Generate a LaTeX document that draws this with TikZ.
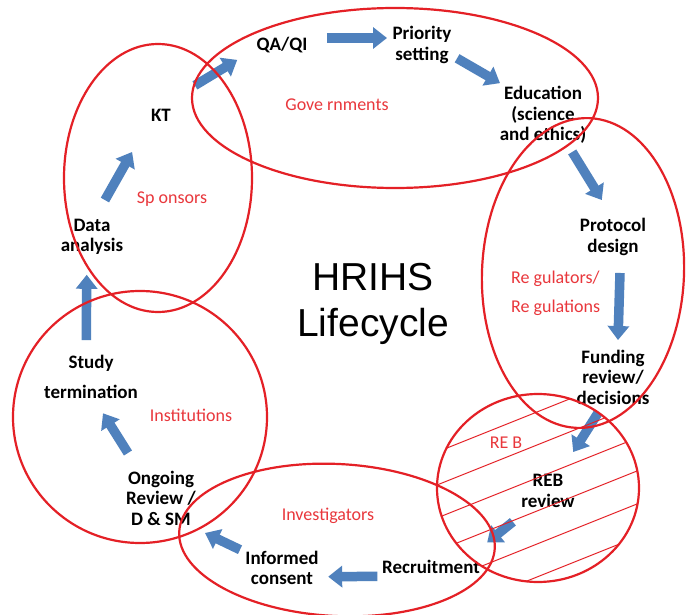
\documentclass[tikz,border=0pt]{standalone}
\usepackage{fontspec}
\setmainfont{Carlito}
\newfontfamily\titlefont{Liberation Sans}
\usetikzlibrary{arrows.meta,calc,backgrounds}
\definecolor{ringred}{RGB}{228,32,38}
\definecolor{labred}{RGB}{233,55,60}
\definecolor{arrblue}{RGB}{79,129,189}
\tikzset{
  stage/.style={font=\bfseries\fontsize{19}{20.5}\selectfont, align=center, inner sep=0pt},
  actor/.style={font=\fontsize{18}{20}\selectfont, text=labred, inner sep=0pt, align=left},
  ring/.style={draw=ringred, line width=2.2pt},
  hatchline/.style={draw=ringred, line width=1pt},
  flow/.style={draw=arrblue, line width=9.5pt, -{Triangle[width=21pt,length=14pt]}},
}
\begin{document}
\begin{tikzpicture}[x=1pt,y=-1pt]
\useasboundingbox (0,0) rectangle (689,615);

% stages
\node[stage] (qa)  at (282,45)  {QA/QI};
\node[stage] (pr)  at (422,45)  {Priority\\setting};
\node[stage] (ed)  at (543,115) {Education\\(science\\and ethics)};
\node[stage] (pd)  at (613,237) {Protocol\\design};
\node[stage] (fr)  at (613,377) {Funding\\review/\\decisions};
\node[stage] (reb) at (548,491) {REB\\review};
\node[stage] (rec) at (431,567) {Recruitment};
\node[stage] (ic)  at (282,568) {Informed\\consent};
\node[stage] (og)  at (161,498) {Ongoing\\Review /\\D \& SM};
\node[stage] (st)  at (91,377)  {Study\\[9.5pt]termination};
\node[stage] (da)  at (92,237)  {Data\\analysis};
\node[stage] (kt)  at (161,115) {KT};

% title
\node[font=\titlefont\fontsize{39}{46}\selectfont, align=center, inner sep=0pt] (title) at (373,304) {HRIHS\\Lifecycle};

% actors
\node[actor] (gov)  at (337,105) {Gove rnments};
\node[actor] (spo)  at (172,199) {Sp onsors};
\node[actor, anchor=west] (regu) at (511,293) {Re gulators/\\[9pt]Re gulations};
\node[actor] (rebl) at (506,443) {RE B};
\node[actor] (inv)  at (328,516) {Investigators};
\node[actor] (ins)  at (191,415) {Institutions};

% flow arrows
\begin{scope}[on background layer]
\fill[white] (0,0) rectangle (689,615);
\draw[flow] ($(kt)!.28!(qa)+(0,-10)$) -- ($(kt)!.63!(qa)+(0,-11)$);
\draw[flow] ($(qa)!.32!(pr)+(0,-7)$) -- ($(qa)!.75!(pr)+(0,-7)$);
\draw[flow] ($(pr)!.29!(ed)+(0,-7)$) -- ($(pr)!.645!(ed)+(0,-7)$);
\draw[flow] ($(ed)!.303!(pd)+(8,0)$) -- ($(ed)!.697!(pd)+(10,0)$);
\draw[flow] ($(pd)!.257!(fr)+(7,0)$) -- ($(pd)!.736!(fr)+(5,0)$);
\draw[flow] ($(fr)!.316!(reb)+(5.5,0)$) -- ($(fr)!.658!(reb)+(3,0)$);
\draw[flow] ($(reb)!.30!(rec)+(0,8)$) -- ($(reb)!.52!(rec)+(0,12)$);
\draw[flow] ($(rec)!.36!(ic)+(0,9)$) -- ($(rec)!.69!(ic)+(0,9)$);
\draw[flow] ($(ic)!.347!(og)+(0,6)$) -- ($(ic)!.636!(og)+(0,9.5)$);
\draw[flow] ($(og)!.372!(st)+(-7,0)$) -- ($(og)!.70!(st)+(-9,0)$);
\draw[flow] ($(st)!.264!(da)+(-5,0)$) -- ($(st)!.73!(da)+(-5,0)$);
\draw[flow] ($(da)!.303!(kt)+(-8,0)$) -- ($(da)!.697!(kt)+(-8,0)$);
\end{scope}

% hatching of the REB circle
\begin{scope}
\clip (538,488) ellipse [x radius=101, y radius=94];
\foreach \k in {0,...,5}
  \draw[hatchline] (430,{454.8+33*\k}) -- (650,{366.8+33*\k});
\end{scope}

% stakeholder rings
\draw[ring] (395,98) ellipse [x radius=203, y radius=90];
\draw[ring] (158,178) ellipse [x radius=94, y radius=134];
\draw[ring, rotate around={-2.4:(583,273)}] (583,273) ellipse [x radius=101, y radius=155];
\draw[ring] (538,488) ellipse [x radius=101, y radius=94];
\draw[ring, rotate around={-3:(337,540)}] (337,540) ellipse [x radius=158, y radius=76];
\draw[ring] (140,417) ellipse [x radius=127, y radius=126];
\end{tikzpicture}
\end{document}
